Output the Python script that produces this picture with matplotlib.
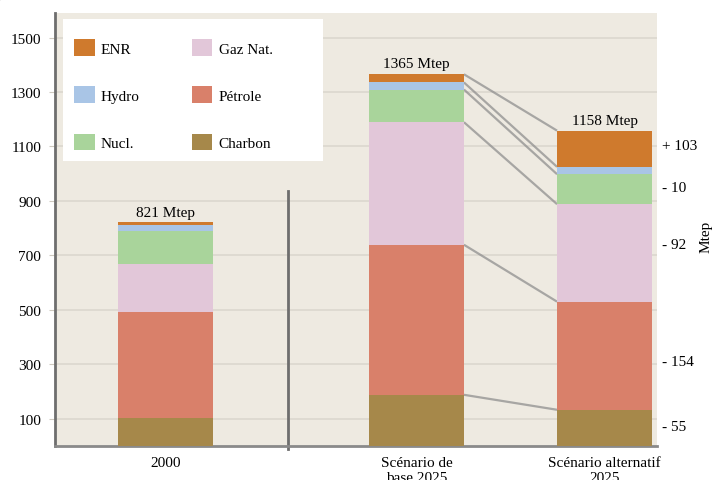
import numpy as np
import matplotlib
matplotlib.use('Agg')
import matplotlib.pyplot as plt
from matplotlib.patches import Patch, Rectangle

plt.rcParams['font.family'] = ['Liberation Serif', 'DejaVu Serif']
plt.rcParams['font.size'] = 11

# data (Mtep)
scenarios = ['2000', 'Scénario de\nbase 2025', 'Scénario alternatif\n2025']
sources = ['Charbon', 'Pétrole', 'Gaz Nat.', 'Nucl.', 'Hydro', 'ENR']
charbon = [103, 188, 133]
petrole = [390, 551, 397]
gaz_nat = [177, 450, 358]
nucl = [118, 120, 110]
hydro = [25, 26, 27]
enr = [8, 30, 133]
totals = ['821 Mtep', '1365 Mtep', '1158 Mtep']
diff_labels = ['- 55', '- 154', '- 92', '- 10', '+ 103']
diff_y = [70, 310, 740, 949, 1104]

colors = {'Charbon': '#A6884A', 'Pétrole': '#D9806A', 'Gaz Nat.': '#E2C7D9',
          'Nucl.': '#A9D49B', 'Hydro': '#A9C5E6', 'ENR': '#CF7A2D'}

x_pos = np.array([0.0, 1.332, 2.332])
bar_w = 0.505

fig = plt.figure(figsize=(7.16, 4.81), dpi=100)
ax = fig.add_axes([0.0768, 0.0707, 0.8408, 0.9002])
ax.set_facecolor('#EEEAE1')

stack = np.array([charbon, petrole, gaz_nat, nucl, hydro, enr], dtype=float)
bottoms = np.zeros(3)
for name, vals in zip(sources, stack):
    ax.bar(x_pos, vals, bar_w, bottom=bottoms, color=colors[name], zorder=3)
    bottoms = bottoms + vals

# connecting lines between base and alternative scenario
cum = np.cumsum(stack, axis=0)
for row in cum:
    ax.plot([x_pos[1] + bar_w / 2, x_pos[2] - bar_w / 2], [row[1], row[2]],
            color='#8f8f8f', lw=1.6, alpha=0.75, zorder=2, solid_capstyle='butt')

for xp, tot, lab in zip(x_pos, cum[-1], totals):
    ax.text(xp, tot + 14, lab, ha='center', va='bottom', fontsize=11)

for lab, yv in zip(diff_labels, diff_y):
    ax.text(1.008, yv, lab, transform=ax.get_yaxis_transform(), ha='left',
            va='center', fontsize=11)
ax.text(1.082, 770, 'Mtep', transform=ax.get_yaxis_transform(), rotation=90,
        ha='center', va='center', fontsize=11)

# separator between 2000 and 2025
ax.plot([0.649, 0.649], [-10, 935], color='#6e6e6e', lw=2, zorder=2, clip_on=False)

ax.set_xlim(-0.590, 2.611)
ax.set_ylim(0, 1590)
ax.set_yticks(range(100, 1600, 200))
ax.set_xticks(x_pos)
ax.set_xticklabels(scenarios, fontsize=11, linespacing=1.2)
ax.tick_params(axis='x', length=0, pad=7)
ax.tick_params(axis='y', length=4, color='#cfcac0', pad=6)
ax.grid(axis='y', color='#dbd7ce', lw=1.2, zorder=1)
ax.set_axisbelow(True)
for s in ['top', 'right']:
    ax.spines[s].set_visible(False)
ax.spines['left'].set_color('#6e6e6e')
ax.spines['left'].set_linewidth(2)
ax.spines['bottom'].set_color('#8a8a8a')
ax.spines['bottom'].set_linewidth(2)

# white legend box
ax.add_patch(Rectangle((0.0133, 0.6582), 0.432, 0.3279, transform=ax.transAxes,
                       facecolor='white', edgecolor='none', zorder=4))
order = ['ENR', 'Hydro', 'Nucl.', 'Gaz Nat.', 'Pétrole', 'Charbon']
handles = [Patch(facecolor=colors[n], edgecolor='none', label=n) for n in order]
leg = ax.legend(handles=handles, ncol=2, loc='upper left',
                bbox_to_anchor=(0.0066, 0.975), borderaxespad=0, frameon=False,
                handlelength=1.35, handleheight=1.3, handletextpad=0.4,
                labelspacing=2.0, columnspacing=3.4, borderpad=1.0)
leg.set_zorder(5)

fig.text(0.58, 481 - 3, 'Projections 2025 (demande totale des pays)', ha='right',
         va='baseline', fontsize=11, transform=None)

fig.savefig('out.png', dpi=100)
